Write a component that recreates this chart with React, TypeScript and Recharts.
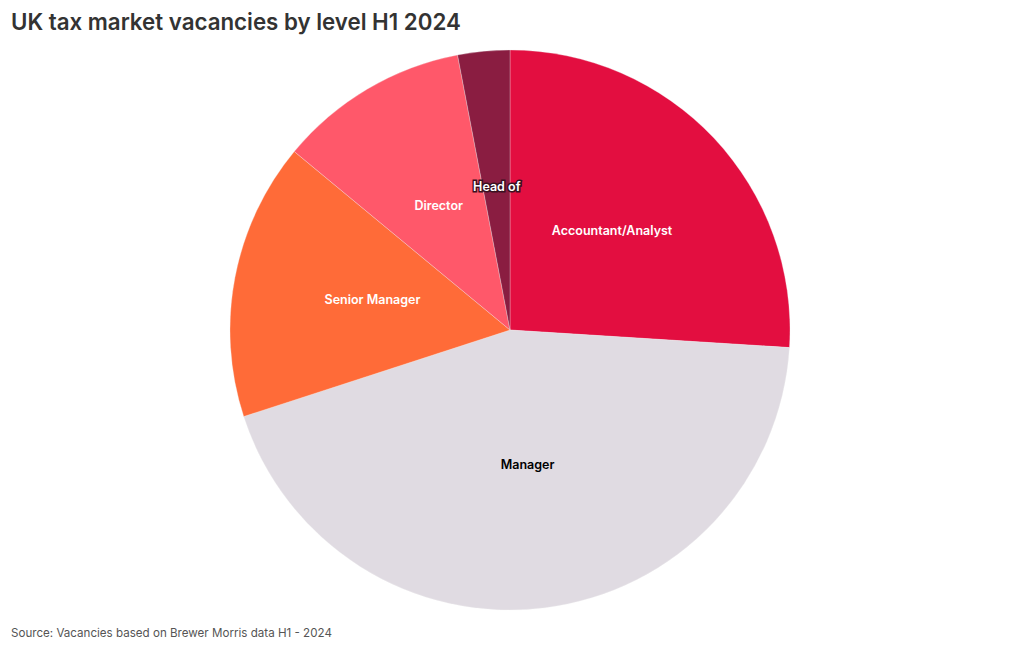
import { PieChart, Pie, Cell } from "recharts";

const levels = ["Accountant/Analyst", "Manager", "Senior Manager", "Director", "Head of"];
const vacancies = [26, 44, 16, 11, 3];
const COLORS = ["#E30E40", "#E0DBE2", "#FF6B38", "#FF586A", "#8A1D41"];
const labelColors = ["#fff", "#000", "#fff", "#fff", "#fff"];

const pieData = levels.map((name, i) => ({ name, value: vacancies[i] }));

const RAD = Math.PI / 180;

const renderLabel = (props: any) => {
  const { cx, cy, midAngle, outerRadius, index, name } = props;
  const r = outerRadius * 0.5;
  const x = cx + r * Math.cos(-midAngle * RAD);
  const y = cy + r * Math.sin(-midAngle * RAD) - 4;
  const outlined = name === "Head of";
  return (
    <text
      x={x}
      y={y}
      textAnchor="middle"
      dominantBaseline="central"
      fill={labelColors[index]}
      stroke={outlined ? "#3a1020" : "none"}
      strokeWidth={outlined ? 3 : 0}
      paintOrder="stroke"
      fontFamily="Inter, sans-serif"
      fontSize={12.5}
      fontWeight={600}
    >
      {name}
    </text>
  );
};

export default function App() {
  return (
    <div
      style={{
        position: "absolute",
        left: 0,
        top: 0,
        width: 1020,
        height: 650,
        background: "#fff",
        fontFamily: "Inter, sans-serif",
      }}
    >
      <div
        style={{
          position: "absolute",
          left: 11,
          top: 8,
          fontSize: 22.3,
          fontWeight: 600,
          color: "#333",
        }}
      >
        UK tax market vacancies by level H1 2024
      </div>
      <div style={{ position: "absolute", left: 0, top: 0 }}>
        <PieChart width={1020} height={650} margin={{ top: 0, right: 0, bottom: 0, left: 0 }}>
          <Pie
            data={pieData}
            dataKey="value"
            nameKey="name"
            cx={510}
            cy={330}
            outerRadius={280}
            startAngle={90}
            endAngle={-270}
            stroke="#f3f0f3"
            strokeWidth={0.3}
            labelLine={false}
            label={renderLabel}
            isAnimationActive={false}
          >
            {pieData.map((entry, index) => (
              <Cell key={`cell-${index}`} fill={COLORS[index]} />
            ))}
          </Pie>
        </PieChart>
      </div>
      <div
        style={{
          position: "absolute",
          left: 11,
          top: 626,
          fontSize: 11.6,
          color: "#555",
        }}
      >
        Source: Vacancies based on Brewer Morris data H1 - 2024
      </div>
    </div>
  );
}
